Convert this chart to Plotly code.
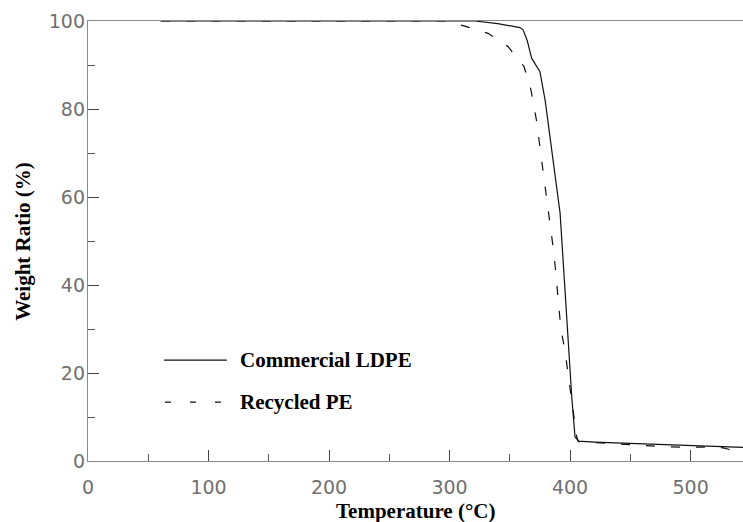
import plotly.graph_objects as go

# Thermogravimetric curves: temperature (°C) vs. remaining weight (%)
ldpe_temp = [60, 321, 340, 358.5, 361, 364.3, 368.2, 372.4, 375, 379.3, 385, 389.5,
             391.7, 395.3, 398.6, 401.4, 404.1, 407, 420, 450, 491, 519, 543.5]
ldpe_weight = [100, 100, 99.4, 98.5, 98, 95.7, 91.5, 89.6, 88.5, 82, 70, 60,
               56.4, 41, 26, 14.6, 5.5, 4.5, 4.3, 4.0, 3.6, 3.3, 3.1]

recycled_temp = [61, 296, 312, 332, 348.5, 361.7, 367.6, 372.4, 375.7, 378.5, 381.3,
                 384, 386.7, 388.5, 390.2, 392.4, 395.8, 398.7, 401.6, 404, 405.5,
                 407, 420, 436, 456, 475, 497, 517, 527, 537, 543.5]
recycled_weight = [100, 100, 98.9, 97.2, 94.2, 89.7, 84.3, 77, 69.8, 64, 58.2,
                   52.7, 47, 41.7, 36, 30, 25, 19.2, 13.8, 8.5, 5.5,
                   4.4, 4.2, 3.8, 3.6, 3.3, 3.1, 3.2, 3.0, 2.2, 1.8]

series_names = ["Commercial LDPE", "Recycled PE"]
x_ticks = [0, 100, 200, 300, 400, 500]
y_ticks = [0, 20, 40, 60, 80, 100]

SERIF = "Liberation Serif, Times New Roman, serif"
TICK_FONT = dict(family="DejaVu Sans ExtraLight, DejaVu Sans", size=19, color="#707070")

fig = go.Figure()
fig.add_trace(go.Scatter(x=ldpe_temp, y=ldpe_weight, mode="lines",
                         line=dict(color="#111111", width=1.2),
                         name=series_names[0], showlegend=False))
fig.add_trace(go.Scatter(x=recycled_temp, y=recycled_weight, mode="lines",
                         line=dict(color="#111111", width=1.2, dash="9px,16px"),
                         name=series_names[1], showlegend=False))

# Hand-placed legend inside the plot area
legend_rows = [(0.2294, "solid"), (0.134, "6px,19px")]
for (ypos, dash), label in zip(legend_rows, series_names):
    fig.add_shape(type="line", xref="paper", yref="paper",
                  x0=0.116 if dash == "solid" else 0.1175, x1=0.212, y0=ypos, y1=ypos,
                  line=dict(color="#111111", width=1.2, dash=dash))
    fig.add_annotation(x=0.2285, y=ypos, xref="paper", yref="paper",
                       text=f"<b>{label}</b>", showarrow=False,
                       xanchor="left", yanchor="middle",
                       font=dict(family=SERIF, size=21, color="#000000"))

# Axis titles
fig.add_annotation(x=0.5, y=-0.114, xref="paper", yref="paper",
                   text="<b>Temperature (°C)</b>", showarrow=False,
                   xanchor="center", yanchor="middle",
                   font=dict(family=SERIF, size=21, color="#000000"))
fig.add_annotation(x=-0.0995, y=0.5, xref="paper", yref="paper",
                   text="<b>Weight Ratio (%)</b>", showarrow=False, textangle=-90,
                   xanchor="center", yanchor="middle",
                   font=dict(family=SERIF, size=21, color="#000000"))

fig.update_xaxes(range=[0, 543.5], tickvals=x_ticks, ticks="inside", ticklen=11,
                 tickcolor="#444444", tickwidth=1, showline=True, linecolor="#8a8a8a",
                 linewidth=1.3, mirror=True, showgrid=False, zeroline=False,
                 tickfont=TICK_FONT, ticklabelstandoff=9,
                 minor=dict(dtick=50, ticks="inside", ticklen=7, tickcolor="#555555",
                            showgrid=False))
fig.update_yaxes(range=[0, 100], tickvals=y_ticks, ticks="inside", ticklen=11,
                 tickcolor="#444444", tickwidth=1, showline=True, linecolor="#8a8a8a",
                 linewidth=1.3, showgrid=False, zeroline=False,
                 tickfont=TICK_FONT, ticklabelstandoff=-2,
                 minor=dict(dtick=10, ticks="inside", ticklen=7, tickcolor="#555555",
                            showgrid=False))

fig.update_layout(width=743, height=522,
                  margin=dict(l=88, r=0, t=21, b=61),
                  paper_bgcolor="white", plot_bgcolor="white",
                  showlegend=False)

fig.write_html("out.html")
